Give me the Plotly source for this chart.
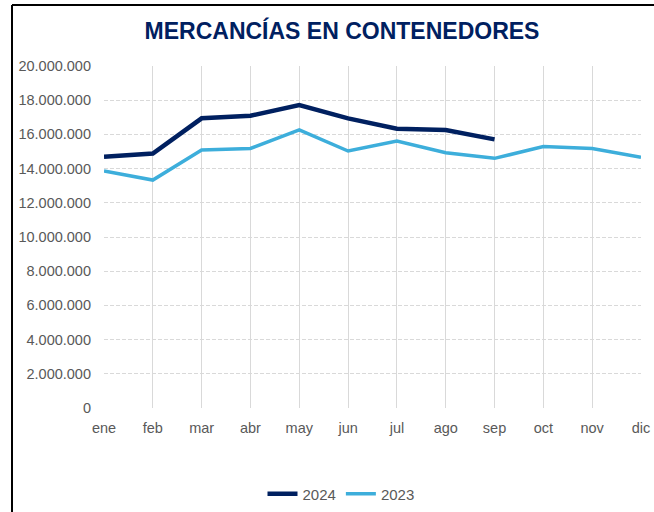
import plotly.graph_objects as go

# Monthly container cargo (tonnes)
months = ["ene", "feb", "mar", "abr", "may", "jun", "jul", "ago", "sep", "oct", "nov", "dic"]
values_2024 = [14690000, 14880000, 16940000, 17090000, 17720000, 16940000, 16330000, 16260000, 15710000]
values_2023 = [13860000, 13330000, 15090000, 15180000, 16260000, 15030000, 15610000, 14930000, 14600000, 15290000, 15180000, 14660000]

W, H = 654, 512
L, R, T, B = 104, 13, 66, 104
pw, ph = W - L - R, H - T - B


def px_x(x):
    return (x - L) / pw


def px_y(y):
    return (H - B - y) / ph


fig = go.Figure()
fig.add_trace(go.Scatter(
    x=months[:len(values_2024)], y=values_2024, name="2024", mode="lines",
    line=dict(color="#002060", width=4.5),
))
fig.add_trace(go.Scatter(
    x=months, y=values_2023, name="2023", mode="lines",
    line=dict(color="#3DAEDB", width=3.5),
))

grid_color = "#D9D9D9"
tick_font = dict(family="Liberation Sans, Arial, sans-serif", size=14.5, color="#595959")

fig.update_layout(
    width=W, height=H,
    margin=dict(l=L, r=R, t=T, b=B, autoexpand=False),
    paper_bgcolor="white", plot_bgcolor="white",
    separators=",.",
    title=dict(
        text="<b>MERCANCÍAS EN CONTENEDORES</b>",
        font=dict(family="Liberation Sans, Arial, sans-serif", size=23, color="#002060"),
        x=px_x(342), xanchor="center", xref="paper",
        y=1 - 31 / H, yanchor="middle", yref="container",
    ),
    xaxis=dict(
        type="category", categoryorder="array", categoryarray=months,
        range=[0, 11], showgrid=True, gridcolor=grid_color, gridwidth=1,
        showline=False, zeroline=False, ticks="",
        tickfont=tick_font, ticklabelstandoff=9,
    ),
    yaxis=dict(
        range=[0, 20000000], dtick=2000000, tickformat=",d",
        showgrid=True, gridcolor=grid_color, gridwidth=1, griddash="4px,2px",
        showline=False, zeroline=False, ticks="",
        tickfont=tick_font, ticklabelstandoff=12,
    ),
    showlegend=True,
    legend=dict(
        orientation="h", x=px_x(341), xanchor="center",
        y=px_y(494), yanchor="middle",
        font=dict(family="Liberation Sans, Arial, sans-serif", size=15, color="#595959"),
        itemwidth=30, bgcolor="rgba(0,0,0,0)",
    ),
    shapes=[
        dict(type="line", xref="paper", yref="paper",
             x0=px_x(12), x1=px_x(12), y0=px_y(5), y1=px_y(520),
             line=dict(color="black", width=2)),
        dict(type="line", xref="paper", yref="paper",
             x0=px_x(12), x1=px_x(660), y0=px_y(5), y1=px_y(5),
             line=dict(color="black", width=2)),
    ],
)

fig.write_html("out.html")
